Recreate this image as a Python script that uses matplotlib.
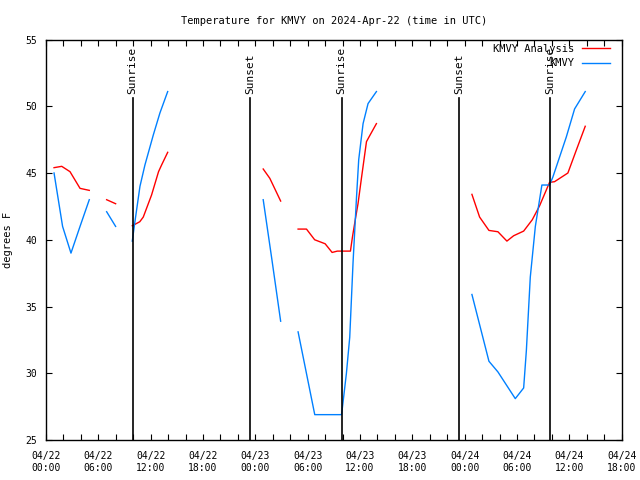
import numpy as np
import matplotlib
matplotlib.use("Agg")
import matplotlib.pyplot as plt

# hours since 2024-04-22 00:00 UTC, NaN marks a gap
nan = np.nan
ana_hours = [0.92, 1.8, 2.75, 3.9, 4.96, nan,
             6.95, 7.98, nan,
             9.89, 10.75, 11.15, 12.1, 12.9, 13.25, 13.95, nan,
             24.9, 25.66, 26.9, nan,
             28.9, 29.86, 30.8, 32.0, 32.8, 33.4, 34.9, 35.13, 35.48, 35.77, 36.16, 36.74, 37.03, 37.88, nan,
             48.83, 49.71, 50.78, 51.81, 52.84, 53.61, 54.76, 55.75, 56.59, 57.73, 58.3, 59.83, 60.79, 61.82]
ana_temp = [45.4, 45.5, 45.1, 43.85, 43.7, nan,
            43.0, 42.7, nan,
            41.05, 41.35, 41.7, 43.35, 45.1, 45.6, 46.55, nan,
            45.3, 44.6, 42.9, nan,
            40.8, 40.8, 40.0, 39.7, 39.05, 39.15, 39.15, 40.2, 41.6, 42.7, 44.6, 47.35, 47.7, 48.7, nan,
            43.4, 41.7, 40.7, 40.6, 39.9, 40.3, 40.65, 41.5, 42.55, 44.3, 44.35, 45.0, 46.7, 48.5]

obs_hours = [0.92, 1.9, 2.86, 3.9, 4.96, nan,
             6.95, 7.98, nan,
             9.89, 10.16, 10.77, 11.34, 12.3, 13.06, 13.95, nan,
             24.9, 25.9, 26.9, nan,
             28.9, 30.81, 33.87, 33.94, 34.44, 34.82, 35.2, 35.59, 35.85, 36.35, 36.92, 37.88, nan,
             48.83, 50.78, 51.81, 53.8, 54.76, 55.07, 55.52, 56.1, 56.85, 57.73, 58.11, 59.65, 60.6, 61.82]
obs_temp = [45.0, 41.0, 39.0, 41.0, 43.0, nan,
            42.1, 41.0, nan,
            39.9, 41.2, 44.0, 45.6, 47.85, 49.5, 51.1, nan,
            43.0, 38.5, 33.9, nan,
            33.1, 26.9, 26.9, 27.2, 30.0, 32.7, 38.3, 43.1, 46.0, 48.7, 50.2, 51.1, nan,
            35.9, 30.9, 30.1, 28.1, 28.9, 31.7, 37.2, 41.0, 44.1, 44.1, 44.7, 47.7, 49.8, 51.1]

sun_hours = [9.92, 23.42, 33.9, 47.38, 57.81]
sun_labels = ["Sunrise", "Sunset", "Sunrise", "Sunset", "Sunrise"]

tick_hours = list(range(0, 67, 6))
tick_labels = ["04/22\n00:00", "04/22\n06:00", "04/22\n12:00", "04/22\n18:00",
               "04/23\n00:00", "04/23\n06:00", "04/23\n12:00", "04/23\n18:00",
               "04/24\n00:00", "04/24\n06:00", "04/24\n12:00", "04/24\n18:00"]

plt.rcParams["font.family"] = ["DejaVu Sans Mono"]
plt.rcParams["font.size"] = 7

fig = plt.figure(figsize=(6.4, 4.8), dpi=100)
ax = fig.add_axes([0.0719, 0.0833, 0.8995, 0.8344])

ax.plot(ana_hours, ana_temp, color="#ff0000", lw=1.0, label="KMVY Analysis")
ax.plot(obs_hours, obs_temp, color="#0080ff", lw=1.0, label="KMVY")

for h, lab in zip(sun_hours, sun_labels):
    ax.axvline(h, ymin=0, ymax=0.854, color="black", lw=1.2)
    ax.text(h, 50.9, lab, rotation=90, ha="center", va="bottom", fontsize=8)

ax.set_xlim(0, 66)
ax.set_ylim(25, 55)
ax.set_xticks(tick_hours)
ax.set_xticklabels(tick_labels)
ax.set_xticks(range(0, 67, 2), minor=True)
ax.set_yticks(range(25, 56, 5))
ax.tick_params(which="both", direction="in", top=True, right=True, length=4, width=0.8)
ax.tick_params(axis="x", pad=8)
ax.tick_params(axis="y", pad=6.5)
for s in ax.spines.values():
    s.set_linewidth(1.0)

ax.set_ylabel("degrees F", fontsize=7.5, labelpad=9)
ax.set_title("Temperature for KMVY on 2024-Apr-22 (time in UTC)", fontsize=7.5, pad=11)
ax.legend(loc="upper right", frameon=False, markerfirst=False, handlelength=2.7,
          handletextpad=0.7, borderaxespad=0, labelspacing=0.45, fontsize=7.5,
          bbox_to_anchor=(0.987, 1.0))

fig.savefig("out.png", dpi=100)
